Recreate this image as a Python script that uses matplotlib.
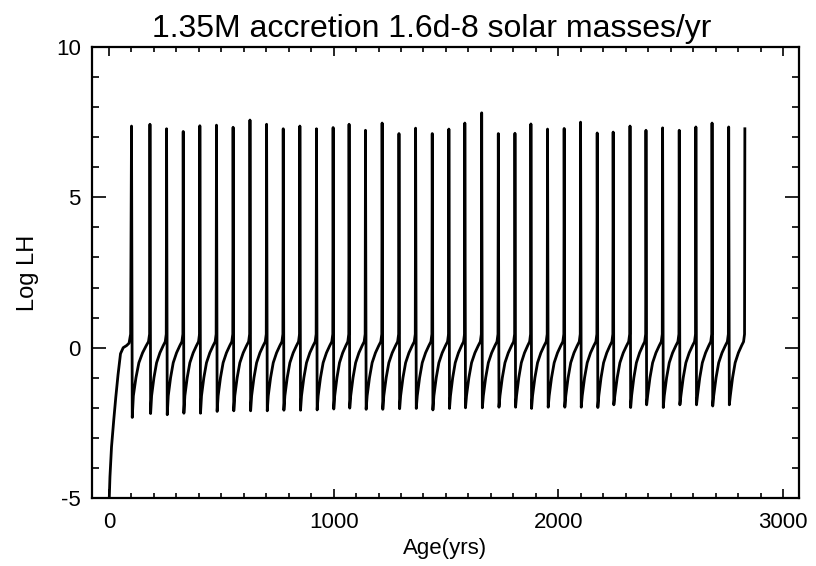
import matplotlib.pyplot as plt
from matplotlib.ticker import MultipleLocator

# 起始阶段（点火前的上升）
startup_age = [0, 2, 5, 12, 22, 31, 41, 52, 64, 79, 90, 97]
startup_lh = [-5.6, -5.0, -4.3, -3.3, -2.4, -1.65, -0.9, -0.2, 0.0, 0.07, 0.15, 0.45]

# 每次闪耀的时间、峰值、谷值
flash_age = [101, 183, 257, 331, 405, 479, 553, 628, 702, 776, 850, 924, 998, 1069,
             1142, 1216, 1291, 1365, 1439, 1513, 1584, 1659, 1733, 1807, 1878, 1952,
             2026, 2099, 2173, 2244, 2319, 2390, 2464, 2538, 2612, 2684, 2758, 2830]
flash_peak = [7.37, 7.43, 7.28, 7.19, 7.38, 7.40, 7.33, 7.57, 7.43, 7.28, 7.37, 7.28, 7.32, 7.43,
              7.23, 7.47, 7.12, 7.30, 7.12, 7.27, 7.47, 7.81, 7.12, 7.13, 7.44, 7.27, 7.29,
              7.50, 7.14, 7.17, 7.37, 7.23, 7.31, 7.23, 7.34, 7.47, 7.34, 7.28]
flash_trough = [-2.32, -2.19, -2.23, -2.18, -2.18, -2.12, -2.10, -2.10, -2.10, -2.08, -2.08,
                -2.07, -2.04, -2.01, -2.05, -2.05, -2.03, -2.02, -2.07, -2.02, -2.00, -2.00,
                -1.98, -1.98, -2.02, -1.98, -1.98, -1.98, -1.99, -1.90, -1.99, -1.90, -1.99,
                -1.90, -1.90, -1.94, -1.90]

# 两次闪耀之间的恢复曲线（周期内相位 -> Log LH），None 处取谷值
rise_phase = [0.04, 0.1, 0.24, 0.4, 0.6, 0.8, 0.92, 0.98]
rise_lh = [None, -1.6, -1.0, -0.5, -0.17, 0.07, 0.2, 0.45]

age = list(startup_age)
lh = list(startup_lh)
for i in range(len(flash_age)):
    age.append(flash_age[i])
    lh.append(flash_peak[i])
    if i < len(flash_trough):
        period = flash_age[i + 1] - flash_age[i]
        for ph, v in zip(rise_phase, rise_lh):
            age.append(flash_age[i] + ph * period)
            lh.append(flash_trough[i] if v is None else v)

plt.rcParams['font.family'] = ['Liberation Sans', 'DejaVu Sans']
plt.rcParams['axes.unicode_minus'] = False

fig = plt.figure(figsize=(8.16, 5.66), dpi=100)
ax = fig.add_axes([0.1127, 0.1201, 0.8665, 0.7969])
ax.plot(age, lh, color='black', lw=2.0)

ax.set_xlim(-75, 3071)
ax.set_ylim(-5, 10)
ax.set_xticks([0, 1000, 2000, 3000])
ax.set_yticks([-5, 0, 5, 10])
ax.xaxis.set_minor_locator(MultipleLocator(100))
ax.yaxis.set_minor_locator(MultipleLocator(1))
ax.tick_params(which='both', direction='in', top=True, right=True, width=1.2, labelsize=16)
ax.tick_params(axis='x', which='major', length=6.5, pad=10)
ax.tick_params(axis='x', which='minor', length=3.3)
ax.tick_params(axis='y', which='major', length=10, pad=8)
ax.tick_params(axis='y', which='minor', length=5)
for s in ax.spines.values():
    s.set_linewidth(1.6)

ax.set_title('1.35M accretion 1.6d-8 solar masses/yr', fontsize=23, pad=7, x=0.48)
ax.set_xlabel('Age(yrs)', fontsize=16, labelpad=4)
ax.set_ylabel('Log LH', fontsize=17, labelpad=12)

plt.savefig('out.png', dpi=100)
